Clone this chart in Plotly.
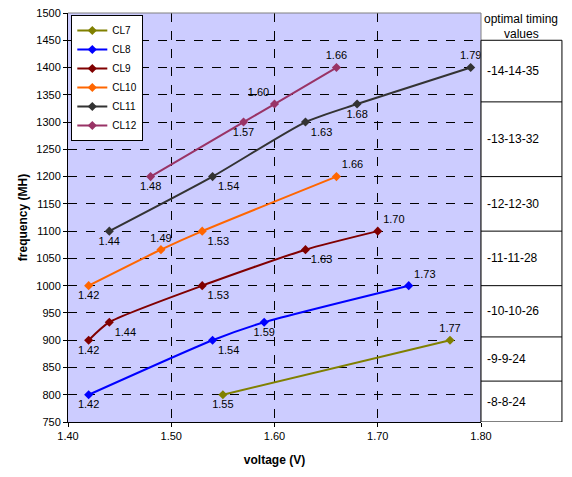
import plotly.graph_objects as go

# voltage (V) / frequency (MHz) per CAS latency
cl7_v = [1.55, 1.77]
cl7_f = [800, 900]
cl8_v = [1.42, 1.54, 1.59, 1.73]
cl8_f = [800, 900, 933, 1000]
cl9_v = [1.42, 1.44, 1.53, 1.63, 1.70]
cl9_f = [900, 933, 1000, 1066, 1100]
cl10_v = [1.42, 1.49, 1.53, 1.66]
cl10_f = [1000, 1066, 1100, 1200]
cl11_v = [1.44, 1.54, 1.63, 1.68, 1.79]
cl11_f = [1100, 1200, 1300, 1333, 1400]
cl12_v = [1.48, 1.57, 1.60, 1.66]
cl12_f = [1200, 1300, 1333, 1400]

timing_labels = ['-14-14-35', '-13-13-32', '-12-12-30', '-11-11-28', '-10-10-26', '-9-9-24', '-8-8-24']

series = [
    ('CL7', cl7_v, cl7_f, '#808000', ['bottom center', 'top center']),
    ('CL8', cl8_v, cl8_f, '#0000FF', ['bottom center', 'bottom right', 'bottom center', 'top right']),
    ('CL9', cl9_v, cl9_f, '#800000', ['bottom center', 'bottom right', 'bottom right', 'bottom right', 'top right']),
    ('CL10', cl10_v, cl10_f, '#FF6600', ['bottom center', 'top center', 'bottom right', 'top right']),
    ('CL11', cl11_v, cl11_f, '#333333', ['bottom center', 'bottom right', 'bottom right', 'bottom center', 'top center']),
    ('CL12', cl12_v, cl12_f, '#993366', ['bottom center', 'bottom center', 'top left', 'top center']),
]

fig = go.Figure()
for name, v, f, color, pos in series:
    fig.add_trace(go.Scatter(
        x=v, y=f, name=name, mode='lines+markers+text',
        text=['%.2f' % x for x in v], textposition=pos,
        textfont=dict(size=11, color='black'),
        line=dict(color=color, width=2, shape='spline', smoothing=0.6),
        marker=dict(symbol='diamond', size=7, color=color),
    ))

# page body has an 8px margin, so the figure is 8px smaller than the window
fig.update_layout(
    width=564, height=469,
    margin=dict(l=60, r=91, t=5, b=55, autoexpand=False),
    paper_bgcolor='white', plot_bgcolor='#CCCCFF',
    font=dict(family='Liberation Sans, Arial, sans-serif', size=11, color='black'),
    showlegend=True,
    legend=dict(x=0.008, y=0.995, xanchor='left', yanchor='top',
                bgcolor='white', bordercolor='black', borderwidth=1,
                font=dict(size=10), tracegroupgap=0, itemwidth=30),
)
fig.update_xaxes(
    range=[1.40, 1.80], dtick=0.1, tickformat='.2f', automargin=False,
    showgrid=True, gridcolor='black', griddash='dash', gridwidth=1,
    showline=True, linecolor='black', linewidth=1, mirror=False,
    ticks='outside', ticklen=4, tickcolor='black', ticklabeloverflow='allow',
    zeroline=False,
    title=dict(text='<b>voltage (V)</b>', font=dict(size=12), standoff=14),
)
fig.update_yaxes(
    range=[750, 1500], dtick=50, automargin=False,
    showgrid=True, gridcolor='black', griddash='dash', gridwidth=1,
    showline=True, linecolor='black', linewidth=1,
    ticks='outside', ticklen=4, tickcolor='black', ticklabeloverflow='allow',
    zeroline=False,
    title=dict(text='<b>frequency (MH)</b>', font=dict(size=12), standoff=6),
)

# gray border at top and right of the plot area
fig.add_shape(type='line', xref='paper', yref='paper', x0=0, x1=1, y0=1, y1=1,
              line=dict(color='#808080', width=1))
fig.add_shape(type='line', xref='paper', yref='paper', x0=1, x1=1, y0=0, y1=1,
              line=dict(color='#808080', width=1))

# timing table on the right
tx1 = 1.196
row_edges = [1450, 1337, 1200, 1100, 1000, 906, 825, 750]
fig.add_shape(type='rect', xref='paper', yref='y', x0=1, x1=tx1, y0=750, y1=1450,
              line=dict(color='black', width=1), fillcolor='white', layer='above')
for e in row_edges[1:-1]:
    fig.add_shape(type='line', xref='paper', yref='y', x0=1, x1=tx1, y0=e, y1=e,
                  line=dict(color='black', width=1))
for i, lab in enumerate(timing_labels):
    ymid = (row_edges[i] + row_edges[i + 1]) / 2
    fig.add_annotation(xref='paper', yref='y', x=1.01, y=ymid, text=lab, showarrow=False,
                       xanchor='left', font=dict(size=12))
for txt, yy in [('optimal timing', 0.986), ('values', 0.949)]:
    fig.add_annotation(xref='paper', yref='paper', x=(tx1 + 1) / 2, y=yy,
                       xanchor='center', yanchor='middle', borderpad=0,
                       text=txt, showarrow=False, font=dict(size=12))

fig.write_html('out.html')
